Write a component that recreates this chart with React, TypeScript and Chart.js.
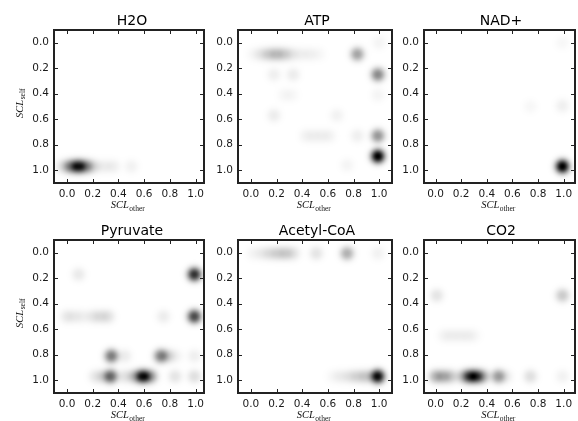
import React, { useEffect, useRef } from "react";
import { Chart, registerables } from "chart.js";

Chart.register(...registerables);

// ---------- data ----------
const TITLES = ["H2O", "ATP", "NAD+", "Pyruvate", "Acetyl-CoA", "CO2"];
const TICK_VALUES = [0.0, 0.2, 0.4, 0.6, 0.8, 1.0];

// [SCL_other, SCL_self, relative density]
const H2O: number[][] = [
  [-0.03, 0.97, 0.12], [0.03, 0.97, 0.42], [0.09, 0.97, 0.72], [0.15, 0.97, 0.38],
  [0.21, 0.97, 0.12], [0.29, 0.97, 0.06], [0.36, 0.97, 0.06], [0.5, 0.97, 0.05],
];
const ATP: number[][] = [
  [0.02, 0.09, 0.03], [0.08, 0.09, 0.08], [0.14, 0.09, 0.15], [0.2, 0.09, 0.19],
  [0.26, 0.09, 0.15], [0.32, 0.09, 0.08], [0.39, 0.09, 0.05], [0.46, 0.09, 0.05],
  [0.53, 0.09, 0.03], [0.83, 0.09, 0.35], [1.0, 0.0, 0.04],
  [0.18, 0.25, 0.06], [0.33, 0.25, 0.07], [0.99, 0.25, 0.45],
  [0.26, 0.41, 0.03], [0.32, 0.41, 0.03], [0.99, 0.41, 0.04],
  [0.18, 0.57, 0.07], [0.67, 0.57, 0.05],
  [0.43, 0.73, 0.045], [0.49, 0.73, 0.045], [0.55, 0.73, 0.045], [0.61, 0.73, 0.045],
  [0.83, 0.73, 0.06], [0.99, 0.73, 0.4],
  [0.99, 0.89, 1.0], [0.75, 0.96, 0.04],
];
const NAD: number[][] = [
  [0.99, 0.97, 1.0], [0.99, 0.495, 0.06], [0.74, 0.5, 0.03], [0.99, 0.0, 0.03],
];
const PYRUVATE: number[][] = [
  [0.09, 0.17, 0.08], [0.99, 0.17, 0.8],
  [0.0, 0.5, 0.08], [0.06, 0.5, 0.06], [0.12, 0.5, 0.05], [0.2, 0.5, 0.08],
  [0.26, 0.5, 0.1], [0.32, 0.5, 0.1], [0.75, 0.5, 0.07], [0.99, 0.5, 0.7],
  [0.345, 0.81, 0.5], [0.45, 0.81, 0.07], [0.73, 0.81, 0.47], [0.79, 0.81, 0.13],
  [0.85, 0.81, 0.04], [0.99, 0.81, 0.06],
  [0.22, 0.97, 0.08], [0.28, 0.97, 0.12], [0.34, 0.97, 0.56], [0.45, 0.97, 0.1],
  [0.53, 0.97, 0.25], [0.59, 0.97, 0.8], [0.65, 0.97, 0.35], [0.84, 0.97, 0.1], [0.99, 0.97, 0.12],
];
const ACETYL_COA: number[][] = [
  [0.02, 0.005, 0.04], [0.09, 0.005, 0.065], [0.15, 0.005, 0.1], [0.21, 0.005, 0.13],
  [0.27, 0.005, 0.15], [0.33, 0.005, 0.1], [0.51, 0.005, 0.1], [0.75, 0.005, 0.3], [0.99, 0.005, 0.05],
  [0.64, 0.97, 0.03], [0.7, 0.97, 0.06], [0.77, 0.97, 0.09], [0.83, 0.97, 0.12],
  [0.89, 0.97, 0.15], [0.94, 0.97, 0.08], [0.99, 0.97, 0.92],
];
const CO2: number[][] = [
  [0.01, 0.335, 0.1], [0.99, 0.335, 0.2],
  [0.07, 0.65, 0.045], [0.13, 0.65, 0.045], [0.19, 0.65, 0.045], [0.25, 0.65, 0.045], [0.3, 0.65, 0.03],
  [0.0, 0.97, 0.25], [0.06, 0.97, 0.25], [0.12, 0.97, 0.18],
  [0.22, 0.97, 0.24], [0.27, 0.97, 0.58], [0.32, 0.97, 0.55], [0.37, 0.97, 0.26],
  [0.49, 0.97, 0.37], [0.55, 0.97, 0.06], [0.74, 0.97, 0.12], [0.99, 0.97, 0.05],
];
const PANEL_DATA = [H2O, ATP, NAD, PYRUVATE, ACETYL_COA, CO2];

// ---------- layout ----------
const COL_LEFT = [54, 238, 424];
const COL_WIDTH = [150, 154, 151];
const COL_XRANGE = [[-0.101, 1.065], [-0.1, 1.1], [-0.09, 1.088]];
const TITLE_CENTER = [132, 317, 501];
const ROW_TOP = [30, 240];
const AREA_H = 153;
const Y_RANGE = [-0.1, 1.1];
const AXIS_W = 54;
const TITLE_H = 30;
const XAXIS_H = 35;
const SPREAD = 0.04; // blob radius scale in data units
const SHAPE = 1.15; // slightly flatter than a plain gaussian

const SANS = "'DejaVu Sans', sans-serif";
const SERIF = "'Liberation Serif', 'DejaVu Serif', serif";
const INK = "#1a1a1a";

const heatPlugin = {
  id: "heat",
  beforeDatasetsDraw(chart: any) {
    const { ctx, chartArea: a, scales } = chart;
    const xs = scales.x, ys = scales.y;
    const w = Math.round(a.right - a.left);
    const h = Math.round(a.bottom - a.top);
    const pts = (chart.data.datasets[0].data as any[]).map((p) => {
      const cx = xs.getPixelForValue(p.x) - a.left;
      const cy = ys.getPixelForValue(p.y) - a.top;
      const sx = Math.abs(xs.getPixelForValue(p.x + SPREAD) - xs.getPixelForValue(p.x));
      const sy = Math.abs(ys.getPixelForValue(p.y + SPREAD) - ys.getPixelForValue(p.y));
      return { cx, cy, sx, sy, v: p.v };
    });
    const off = document.createElement("canvas");
    off.width = w;
    off.height = h;
    const octx = off.getContext("2d")!;
    const img = octx.createImageData(w, h);
    for (let j = 0; j < h; j++) {
      for (let i = 0; i < w; i++) {
        let d = 0;
        const px = i + 0.5, py = j + 0.5;
        for (const p of pts) {
          const dx = (px - p.cx) / p.sx, dy = (py - p.cy) / p.sy;
          const e = dx * dx + dy * dy;
          if (e < 20) d += p.v * Math.exp(-0.5 * Math.pow(e, SHAPE));
        }
        const g = Math.round(255 * (1 - Math.min(1, d)));
        const k = (j * w + i) * 4;
        img.data[k] = g; img.data[k + 1] = g; img.data[k + 2] = g; img.data[k + 3] = 255;
      }
    }
    octx.putImageData(img, 0, 0);
    ctx.drawImage(off, a.left, a.top);
  },
};

function drawSubLabel(ctx: CanvasRenderingContext2D, main: string, sub: string, cx: number, base: number) {
  ctx.font = `italic 10.5px ${SERIF}`;
  const w1 = ctx.measureText(main).width;
  ctx.font = `7.5px ${SERIF}`;
  const w2 = ctx.measureText(sub).width;
  const x0 = cx - (w1 + w2) / 2;
  ctx.textAlign = "left";
  ctx.textBaseline = "alphabetic";
  ctx.font = `italic 10.5px ${SERIF}`;
  ctx.fillText(main, x0, base);
  ctx.font = `7.5px ${SERIF}`;
  ctx.fillText(sub, x0 + w1 + 0.5, base + 2.5);
}

const framePlugin = {
  id: "frame",
  afterDraw(chart: any, _args: any, opts: any) {
    const { ctx, chartArea: a, scales } = chart;
    const xs = scales.x, ys = scales.y;
    ctx.save();
    ctx.strokeStyle = "#222";
    ctx.lineWidth = 1;
    ctx.beginPath();
    for (const t of xs.ticks) {
      const px = Math.round(xs.getPixelForValue(t.value)) + 0.5;
      ctx.moveTo(px, a.top); ctx.lineTo(px, a.top + 4);
      ctx.moveTo(px, a.bottom); ctx.lineTo(px, a.bottom - 4);
    }
    for (const t of ys.ticks) {
      const py = Math.round(ys.getPixelForValue(t.value)) + 0.5;
      ctx.moveTo(a.left, py); ctx.lineTo(a.left + 4, py);
      ctx.moveTo(a.right, py); ctx.lineTo(a.right - 4, py);
    }
    ctx.stroke();
    ctx.lineWidth = 2;
    ctx.strokeRect(a.left, a.top, a.right - a.left, a.bottom - a.top);

    ctx.fillStyle = "#111";
    drawSubLabel(ctx, "SCL", "other", (a.left + a.right) / 2 - 1.5, a.bottom + 25);
    if (opts && opts.yTitle) {
      ctx.save();
      ctx.translate(a.left - 31.5, (a.top + a.bottom) / 2 - 3);
      ctx.rotate(-Math.PI / 2);
      drawSubLabel(ctx, "SCL", "self", 0, 0);
      ctx.restore();
    }
    ctx.restore();
  },
};

function Panel({ index }: { index: number }) {
  const ref = useRef<HTMLCanvasElement | null>(null);
  const col = index % 3;
  const row = Math.floor(index / 3);
  const canvasLeft = COL_LEFT[col] - AXIS_W;
  const canvasTop = ROW_TOP[row] - TITLE_H;
  // empty right-side axis so the title (centred over the full box) sits where it should
  const rightW = 2 * (TITLE_CENTER[col] - COL_LEFT[col]) - COL_WIDTH[col] + AXIS_W;
  const width = AXIS_W + COL_WIDTH[col] + rightW;
  const height = TITLE_H + AREA_H + XAXIS_H;

  useEffect(() => {
    if (!ref.current) return;
    const blobs = PANEL_DATA[index].map(([x, y, v]) => ({ x, y, v }));
    const tickFont = { family: SANS, size: 10.5 };
    const chart = new Chart(ref.current, {
      type: "scatter",
      data: { datasets: [{ data: blobs as any, pointRadius: 0, pointHoverRadius: 0 }] },
      options: {
        responsive: false,
        maintainAspectRatio: false,
        animation: false,
        devicePixelRatio: 1,
        events: [],
        layout: { padding: 0 },
        plugins: {
          legend: { display: false },
          tooltip: { enabled: false },
          title: {
            display: true,
            text: TITLES[index],
            color: "#000",
            font: { family: SANS, size: 14, weight: "normal", lineHeight: "16px" } as any,
            padding: { top: 13, bottom: 1 },
          },
          frame: { yTitle: col === 0 },
        } as any,
        scales: {
          x: {
            type: "linear",
            position: "bottom",
            min: COL_XRANGE[col][0],
            max: COL_XRANGE[col][1],
            afterFit: (s: any) => { s.height = XAXIS_H; },
            afterBuildTicks: (s: any) => { s.ticks = TICK_VALUES.map((v) => ({ value: v })); },
            ticks: {
              callback: (v: any) => Number(v).toFixed(1),
              font: tickFont,
              color: INK,
              padding: 5,
              maxRotation: 0,
              autoSkip: false,
            },
            grid: { display: false, drawTicks: false },
            border: { display: false },
          },
          y: {
            type: "linear",
            position: "left",
            reverse: true,
            min: Y_RANGE[0],
            max: Y_RANGE[1],
            afterFit: (s: any) => { s.width = AXIS_W; },
            afterBuildTicks: (s: any) => { s.ticks = TICK_VALUES.map((v) => ({ value: v })); },
            ticks: {
              callback: (v: any) => Number(v).toFixed(1),
              font: tickFont,
              color: INK,
              padding: 5,
              autoSkip: false,
            },
            grid: { display: false, drawTicks: false },
            border: { display: false },
          },
          yPad: {
            type: "linear",
            position: "right",
            min: Y_RANGE[0],
            max: Y_RANGE[1],
            afterFit: (s: any) => { s.width = rightW; },
            ticks: { display: false },
            grid: { display: false, drawTicks: false },
            border: { display: false },
          },
        } as any,
      },
      plugins: [heatPlugin, framePlugin],
    });
    return () => chart.destroy();
  }, [index]);

  return (
    <canvas
      ref={ref}
      width={width}
      height={height}
      style={{ position: "absolute", left: canvasLeft, top: canvasTop, width, height }}
    />
  );
}

export default function App() {
  return (
    <div
      style={{
        position: "absolute",
        left: 0,
        top: 0,
        width: 578,
        height: 421,
        overflow: "hidden",
        background: "#fff",
      }}
    >
      {TITLES.map((t, i) => (
        <Panel key={t} index={i} />
      ))}
    </div>
  );
}
